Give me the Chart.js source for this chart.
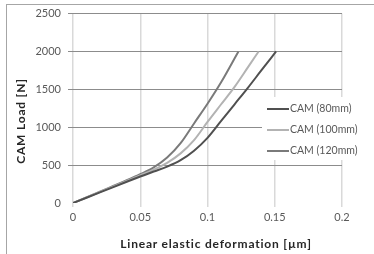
<!DOCTYPE html>
<html>
<head>
<meta charset="utf-8">
<script src="https://cdn.jsdelivr.net/npm/chart.js@4/dist/chart.umd.min.js"></script>
<style>
  html, body { margin: 0; padding: 0; background: #fff; }
  #wrap { position: relative; width: 374px; height: 254px; overflow: hidden; }
  #c { position: absolute; left: 0; top: 0; }
  #frame { position: absolute; left: 6px; top: 4px; width: 400px; height: 300px; border: 1px solid #a6a6a6; pointer-events: none; }
  .ttl { position: absolute; font-family: Lato, "Liberation Sans", sans-serif; font-weight: bold; font-size: 12px; letter-spacing: 0.8px; color: #262626; white-space: nowrap; }
  #ytitle { left: 20px; top: 121px; transform: translate(-50%, -50%) rotate(-90deg); }
  #xtitle { left: 216px; top: 243px; transform: translate(-50%, -50%); }
  #legend { position: absolute; left: 262px; top: 97px; width: 100px; height: 63px; background: #fff;
            font-family: Lato, "Liberation Sans", sans-serif; font-size: 10.5px; color: #595959; }
  .item { position: absolute; left: 5px; height: 14px; line-height: 14px; white-space: nowrap; }
  .swatch { display: inline-block; width: 22px; height: 2px; vertical-align: middle; margin-right: 1px; }
</style>
</head>
<body>
<div id="wrap">
  <canvas id="c" width="374" height="254"></canvas>
  <div id="frame"></div>
  <div id="ytitle" class="ttl">CAM Load [N]</div>
  <div id="xtitle" class="ttl">Linear elastic deformation [µm]</div>
  <div id="legend"></div>
</div>
<script>
// ---- data ----
const seriesLabels = ['CAM (80mm)', 'CAM (100mm)', 'CAM (120mm)'];
const seriesColors = ['#505050', '#b3b3b3', '#7a7a7a'];

const x80  = [0, 0.02, 0.04, 0.05, 0.06, 0.07, 0.08, 0.09, 0.1, 0.11, 0.12, 0.13, 0.14, 0.151];
const y80  = [0, 140, 280, 350, 415, 480, 565, 690, 860, 1080, 1300, 1520, 1750, 2000];

const x100 = [0, 0.02, 0.04, 0.05, 0.06, 0.07, 0.08, 0.09, 0.1, 0.11, 0.12, 0.13, 0.138];
const y100 = [0, 145, 290, 365, 440, 530, 655, 830, 1070, 1300, 1530, 1790, 2000];

const x120 = [0, 0.02, 0.04, 0.05, 0.06, 0.07, 0.08, 0.09, 0.1, 0.11, 0.123];
const y120 = [0, 150, 300, 380, 470, 600, 790, 1050, 1310, 1590, 2000];

const xTickLabels = ['0', '0.05', '0.1', '0.15', '0.2'];
const yTickLabels = ['0', '500', '1000', '1500', '2000', '2500'];

const seriesX = [x80, x100, x120];
const seriesY = [y80, y100, y120];

// ---- legend (HTML) ----
const legend = document.getElementById('legend');
seriesLabels.forEach((lab, i) => {
  const d = document.createElement('div');
  d.className = 'item';
  d.style.top = (4 + i * 21) + 'px';
  d.innerHTML = '<span class="swatch" style="background:' + seriesColors[i] + '"></span>' + lab;
  legend.appendChild(d);
});

// ---- chart ----
const datasets = seriesLabels.map((lab, i) => ({
  label: lab,
  data: seriesX[i].map((x, j) => ({ x: x, y: seriesY[i][j] })),
  borderColor: seriesColors[i],
  backgroundColor: seriesColors[i],
  borderWidth: 2,
  pointRadius: 0,
  fill: false,
  cubicInterpolationMode: 'monotone'
}));

const tickFont = { family: 'Lato, "Liberation Sans", sans-serif', size: 11 };

new Chart(document.getElementById('c'), {
  type: 'line',
  data: { datasets: datasets },
  options: {
    responsive: false,
    animation: false,
    devicePixelRatio: 1,
    layout: { padding: { left: 0, right: 32, top: 12, bottom: 0 } },
    plugins: { legend: { display: false }, tooltip: { enabled: false } },
    scales: {
      x: {
        type: 'linear',
        min: 0, max: 0.2,
        afterFit: s => { s.height = 51; },
        afterBuildTicks: s => { s.ticks = xTickLabels.map((t, i) => ({ value: i * 0.05 })); },
        ticks: { callback: (v, i) => xTickLabels[i], color: '#595959', font: tickFont, padding: 4, maxRotation: 0 },
        grid: { color: '#d9d9d9', lineWidth: 1.5, tickLength: 4, drawTicks: true },
        border: { display: false }
      },
      y: {
        type: 'linear',
        min: 0, max: 2500,
        afterFit: s => { s.width = 73; },
        afterBuildTicks: s => { s.ticks = yTickLabels.map((t, i) => ({ value: i * 500 })); },
        ticks: { callback: (v, i) => yTickLabels[i], color: '#595959', font: tickFont, padding: 7 },
        grid: {
          color: c => (c.tick && c.tick.value === 0) ? 'rgba(0,0,0,0)' : '#8c8c8c',
          lineWidth: 1, tickLength: 5, drawTicks: true
        },
        border: { display: false }
      }
    }
  }
});
</script>
</body>
</html>
